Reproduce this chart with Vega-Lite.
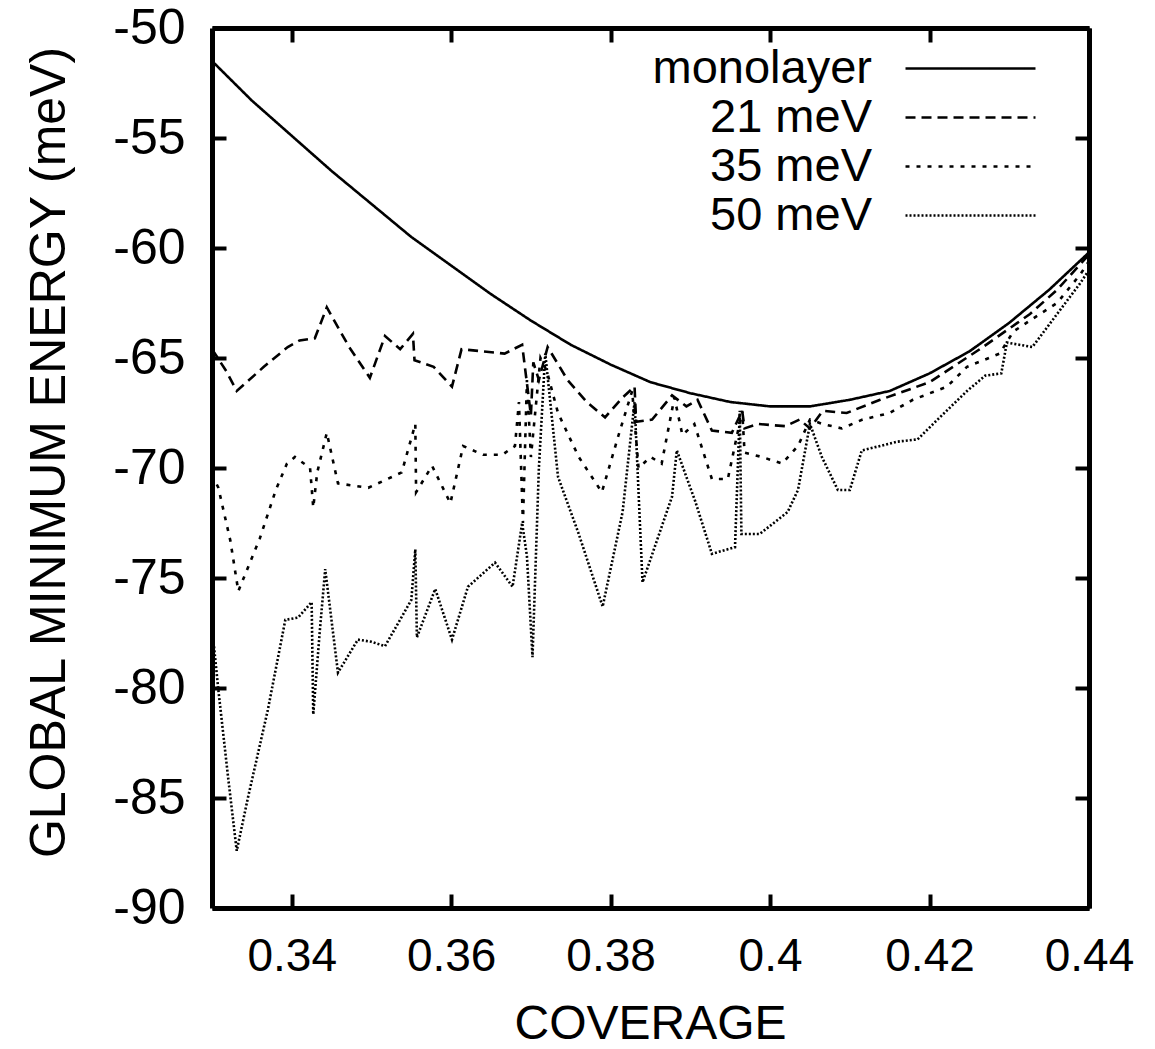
{
  "$schema": "https://vega.github.io/schema/vega-lite/v6.json",
  "width": 877,
  "height": 880,
  "autosize": {"type": "none"},
  "padding": {"left": 212, "top": 28, "right": 66, "bottom": 141},
  "background": "white",
  "config": {
    "view": {"stroke": null},
    "axis": {"grid": false}
  },
  "datasets": {
    "curves": [
      {"s": "monolayer", "x": 0.330, "y": -51.5},
      {"s": "monolayer", "x": 0.335, "y": -53.3},
      {"s": "monolayer", "x": 0.340, "y": -54.9},
      {"s": "monolayer", "x": 0.345, "y": -56.5},
      {"s": "monolayer", "x": 0.350, "y": -58.0},
      {"s": "monolayer", "x": 0.355, "y": -59.5},
      {"s": "monolayer", "x": 0.360, "y": -60.8},
      {"s": "monolayer", "x": 0.365, "y": -62.1},
      {"s": "monolayer", "x": 0.370, "y": -63.3},
      {"s": "monolayer", "x": 0.375, "y": -64.4},
      {"s": "monolayer", "x": 0.380, "y": -65.3},
      {"s": "monolayer", "x": 0.385, "y": -66.1},
      {"s": "monolayer", "x": 0.390, "y": -66.6},
      {"s": "monolayer", "x": 0.395, "y": -67.0},
      {"s": "monolayer", "x": 0.400, "y": -67.2},
      {"s": "monolayer", "x": 0.405, "y": -67.2},
      {"s": "monolayer", "x": 0.410, "y": -66.9},
      {"s": "monolayer", "x": 0.415, "y": -66.5},
      {"s": "monolayer", "x": 0.420, "y": -65.7},
      {"s": "monolayer", "x": 0.425, "y": -64.7},
      {"s": "monolayer", "x": 0.430, "y": -63.4},
      {"s": "monolayer", "x": 0.435, "y": -61.9},
      {"s": "monolayer", "x": 0.440, "y": -60.2},

      {"s": "21 meV", "x": 0.3300, "y": -64.6},
      {"s": "21 meV", "x": 0.3318, "y": -65.6},
      {"s": "21 meV", "x": 0.3331, "y": -66.5},
      {"s": "21 meV", "x": 0.3365, "y": -65.4},
      {"s": "21 meV", "x": 0.3395, "y": -64.5},
      {"s": "21 meV", "x": 0.3410, "y": -64.2},
      {"s": "21 meV", "x": 0.3429, "y": -64.1},
      {"s": "21 meV", "x": 0.3444, "y": -62.7},
      {"s": "21 meV", "x": 0.3472, "y": -64.5},
      {"s": "21 meV", "x": 0.3498, "y": -65.9},
      {"s": "21 meV", "x": 0.3517, "y": -64.0},
      {"s": "21 meV", "x": 0.3536, "y": -64.6},
      {"s": "21 meV", "x": 0.3552, "y": -63.9},
      {"s": "21 meV", "x": 0.3554, "y": -65.1},
      {"s": "21 meV", "x": 0.3578, "y": -65.4},
      {"s": "21 meV", "x": 0.3601, "y": -66.3},
      {"s": "21 meV", "x": 0.3613, "y": -64.6},
      {"s": "21 meV", "x": 0.3640, "y": -64.7},
      {"s": "21 meV", "x": 0.3667, "y": -64.8},
      {"s": "21 meV", "x": 0.3689, "y": -64.4},
      {"s": "21 meV", "x": 0.3700, "y": -67.6},
      {"s": "21 meV", "x": 0.3703, "y": -65.2},
      {"s": "21 meV", "x": 0.3710, "y": -66.0},
      {"s": "21 meV", "x": 0.3721, "y": -64.5},
      {"s": "21 meV", "x": 0.3746, "y": -66.0},
      {"s": "21 meV", "x": 0.3770, "y": -67.0},
      {"s": "21 meV", "x": 0.3793, "y": -67.7},
      {"s": "21 meV", "x": 0.3815, "y": -66.8},
      {"s": "21 meV", "x": 0.3830, "y": -66.3},
      {"s": "21 meV", "x": 0.3832, "y": -67.9},
      {"s": "21 meV", "x": 0.3852, "y": -67.8},
      {"s": "21 meV", "x": 0.3877, "y": -66.7},
      {"s": "21 meV", "x": 0.3895, "y": -67.2},
      {"s": "21 meV", "x": 0.3909, "y": -66.9},
      {"s": "21 meV", "x": 0.3927, "y": -68.3},
      {"s": "21 meV", "x": 0.3952, "y": -68.4},
      {"s": "21 meV", "x": 0.3965, "y": -67.4},
      {"s": "21 meV", "x": 0.3968, "y": -68.2},
      {"s": "21 meV", "x": 0.3985, "y": -68.0},
      {"s": "21 meV", "x": 0.4019, "y": -68.1},
      {"s": "21 meV", "x": 0.4037, "y": -67.8},
      {"s": "21 meV", "x": 0.4050, "y": -68.2},
      {"s": "21 meV", "x": 0.4066, "y": -67.4},
      {"s": "21 meV", "x": 0.4096, "y": -67.5},
      {"s": "21 meV", "x": 0.4138, "y": -66.9},
      {"s": "21 meV", "x": 0.4200, "y": -66.1},
      {"s": "21 meV", "x": 0.4263, "y": -64.6},
      {"s": "21 meV", "x": 0.4326, "y": -63.0},
      {"s": "21 meV", "x": 0.4360, "y": -61.9},
      {"s": "21 meV", "x": 0.4400, "y": -60.3},

      {"s": "35 meV", "x": 0.3300, "y": -70.3},
      {"s": "35 meV", "x": 0.3308, "y": -70.9},
      {"s": "35 meV", "x": 0.3323, "y": -73.3},
      {"s": "35 meV", "x": 0.3333, "y": -75.6},
      {"s": "35 meV", "x": 0.3360, "y": -73.2},
      {"s": "35 meV", "x": 0.3380, "y": -71.0},
      {"s": "35 meV", "x": 0.3394, "y": -69.8},
      {"s": "35 meV", "x": 0.3404, "y": -69.5},
      {"s": "35 meV", "x": 0.3423, "y": -70.0},
      {"s": "35 meV", "x": 0.3427, "y": -71.8},
      {"s": "35 meV", "x": 0.3432, "y": -70.2},
      {"s": "35 meV", "x": 0.3444, "y": -68.4},
      {"s": "35 meV", "x": 0.3458, "y": -70.7},
      {"s": "35 meV", "x": 0.3496, "y": -70.9},
      {"s": "35 meV", "x": 0.3538, "y": -70.2},
      {"s": "35 meV", "x": 0.3555, "y": -68.0},
      {"s": "35 meV", "x": 0.3556, "y": -71.1},
      {"s": "35 meV", "x": 0.3576, "y": -69.9},
      {"s": "35 meV", "x": 0.3599, "y": -71.6},
      {"s": "35 meV", "x": 0.3615, "y": -69.0},
      {"s": "35 meV", "x": 0.3640, "y": -69.4},
      {"s": "35 meV", "x": 0.3664, "y": -69.4},
      {"s": "35 meV", "x": 0.3680, "y": -69.0},
      {"s": "35 meV", "x": 0.3685, "y": -67.0},
      {"s": "35 meV", "x": 0.3690, "y": -72.5},
      {"s": "35 meV", "x": 0.3695, "y": -66.0},
      {"s": "35 meV", "x": 0.3700, "y": -69.5},
      {"s": "35 meV", "x": 0.3712, "y": -65.0},
      {"s": "35 meV", "x": 0.3720, "y": -65.6},
      {"s": "35 meV", "x": 0.3734, "y": -67.5},
      {"s": "35 meV", "x": 0.3760, "y": -69.5},
      {"s": "35 meV", "x": 0.3789, "y": -71.1},
      {"s": "35 meV", "x": 0.3810, "y": -68.5},
      {"s": "35 meV", "x": 0.3827, "y": -66.5},
      {"s": "35 meV", "x": 0.3835, "y": -70.0},
      {"s": "35 meV", "x": 0.3850, "y": -69.5},
      {"s": "35 meV", "x": 0.3864, "y": -69.8},
      {"s": "35 meV", "x": 0.3880, "y": -66.8},
      {"s": "35 meV", "x": 0.3890, "y": -68.5},
      {"s": "35 meV", "x": 0.3905, "y": -68.0},
      {"s": "35 meV", "x": 0.3927, "y": -70.5},
      {"s": "35 meV", "x": 0.3947, "y": -70.5},
      {"s": "35 meV", "x": 0.3965, "y": -67.4},
      {"s": "35 meV", "x": 0.3968, "y": -69.3},
      {"s": "35 meV", "x": 0.3990, "y": -69.5},
      {"s": "35 meV", "x": 0.4015, "y": -69.8},
      {"s": "35 meV", "x": 0.4035, "y": -69.0},
      {"s": "35 meV", "x": 0.4050, "y": -67.8},
      {"s": "35 meV", "x": 0.4066, "y": -68.0},
      {"s": "35 meV", "x": 0.4090, "y": -68.2},
      {"s": "35 meV", "x": 0.4116, "y": -67.8},
      {"s": "35 meV", "x": 0.4150, "y": -67.5},
      {"s": "35 meV", "x": 0.4179, "y": -66.9},
      {"s": "35 meV", "x": 0.4222, "y": -66.3},
      {"s": "35 meV", "x": 0.4247, "y": -65.4},
      {"s": "35 meV", "x": 0.4288, "y": -64.8},
      {"s": "35 meV", "x": 0.4305, "y": -63.8},
      {"s": "35 meV", "x": 0.4330, "y": -63.2},
      {"s": "35 meV", "x": 0.4360, "y": -62.5},
      {"s": "35 meV", "x": 0.4389, "y": -61.2},
      {"s": "35 meV", "x": 0.4400, "y": -60.6},

      {"s": "50 meV", "x": 0.3300, "y": -77.2},
      {"s": "50 meV", "x": 0.3308, "y": -80.1},
      {"s": "50 meV", "x": 0.3320, "y": -84.0},
      {"s": "50 meV", "x": 0.3331, "y": -87.4},
      {"s": "50 meV", "x": 0.3345, "y": -85.0},
      {"s": "50 meV", "x": 0.3370, "y": -81.0},
      {"s": "50 meV", "x": 0.3392, "y": -76.9},
      {"s": "50 meV", "x": 0.3408, "y": -76.8},
      {"s": "50 meV", "x": 0.3425, "y": -76.1},
      {"s": "50 meV", "x": 0.3427, "y": -81.2},
      {"s": "50 meV", "x": 0.3435, "y": -77.5},
      {"s": "50 meV", "x": 0.3442, "y": -74.6},
      {"s": "50 meV", "x": 0.3458, "y": -79.3},
      {"s": "50 meV", "x": 0.3483, "y": -77.8},
      {"s": "50 meV", "x": 0.3500, "y": -77.9},
      {"s": "50 meV", "x": 0.3517, "y": -78.1},
      {"s": "50 meV", "x": 0.3550, "y": -76.0},
      {"s": "50 meV", "x": 0.3555, "y": -73.7},
      {"s": "50 meV", "x": 0.3557, "y": -77.7},
      {"s": "50 meV", "x": 0.3580, "y": -75.5},
      {"s": "50 meV", "x": 0.3601, "y": -77.8},
      {"s": "50 meV", "x": 0.3621, "y": -75.4},
      {"s": "50 meV", "x": 0.3655, "y": -74.3},
      {"s": "50 meV", "x": 0.3677, "y": -75.4},
      {"s": "50 meV", "x": 0.3689, "y": -72.5},
      {"s": "50 meV", "x": 0.3695, "y": -74.0},
      {"s": "50 meV", "x": 0.3702, "y": -78.6},
      {"s": "50 meV", "x": 0.3710, "y": -70.0},
      {"s": "50 meV", "x": 0.3718, "y": -64.8},
      {"s": "50 meV", "x": 0.3734, "y": -70.4},
      {"s": "50 meV", "x": 0.3760, "y": -73.0},
      {"s": "50 meV", "x": 0.3790, "y": -76.3},
      {"s": "50 meV", "x": 0.3815, "y": -72.0},
      {"s": "50 meV", "x": 0.3830, "y": -67.0},
      {"s": "50 meV", "x": 0.3840, "y": -75.2},
      {"s": "50 meV", "x": 0.3877, "y": -71.3},
      {"s": "50 meV", "x": 0.3883, "y": -69.2},
      {"s": "50 meV", "x": 0.3906, "y": -71.5},
      {"s": "50 meV", "x": 0.3927, "y": -73.9},
      {"s": "50 meV", "x": 0.3956, "y": -73.6},
      {"s": "50 meV", "x": 0.3962, "y": -67.4},
      {"s": "50 meV", "x": 0.3964, "y": -73.0},
      {"s": "50 meV", "x": 0.3987, "y": -73.0},
      {"s": "50 meV", "x": 0.4022, "y": -72.0},
      {"s": "50 meV", "x": 0.4035, "y": -71.0},
      {"s": "50 meV", "x": 0.4050, "y": -68.0},
      {"s": "50 meV", "x": 0.4065, "y": -69.5},
      {"s": "50 meV", "x": 0.4085, "y": -71.0},
      {"s": "50 meV", "x": 0.4100, "y": -71.0},
      {"s": "50 meV", "x": 0.4115, "y": -69.2},
      {"s": "50 meV", "x": 0.4138, "y": -69.0},
      {"s": "50 meV", "x": 0.4160, "y": -68.8},
      {"s": "50 meV", "x": 0.4185, "y": -68.7},
      {"s": "50 meV", "x": 0.4210, "y": -67.8},
      {"s": "50 meV", "x": 0.4247, "y": -66.5},
      {"s": "50 meV", "x": 0.4270, "y": -65.8},
      {"s": "50 meV", "x": 0.4290, "y": -65.7},
      {"s": "50 meV", "x": 0.4297, "y": -64.3},
      {"s": "50 meV", "x": 0.4329, "y": -64.5},
      {"s": "50 meV", "x": 0.4360, "y": -63.0},
      {"s": "50 meV", "x": 0.4389, "y": -61.6},
      {"s": "50 meV", "x": 0.4400, "y": -61.0}
    ]
  },
  "data": {"name": "curves"},
  "layer": [
    {
      "mark": {"type": "line", "strokeWidth": 2.6, "color": "black", "clip": true},
      "encoding": {
        "x": {
          "field": "x", "type": "quantitative",
          "scale": {"domain": [0.33, 0.44], "nice": false, "zero": false},
          "axis": {
            "orient": "bottom",
            "values": [0.34, 0.36, 0.38, 0.4, 0.42, 0.44],
            "format": "~g",
            "title": "COVERAGE",
            "titleFont": "Liberation Sans, sans-serif",
            "titleFontSize": 48,
            "titleFontWeight": "normal",
            "titleColor": "black",
            "titleX": 438,
            "titleY": 130,
            "titleBaseline": "alphabetic",
            "titleAlign": "center",
            "labelFont": "Liberation Sans, sans-serif",
            "labelFontSize": 46,
            "labelColor": "black",
            "labelPadding": 40,
            "labelFlush": false,
            "labelOverlap": false,
            "tickSize": -14,
            "tickWidth": 4,
            "tickColor": "black",
            "domainWidth": 5,
            "domainColor": "black"
          }
        },
        "y": {
          "field": "y", "type": "quantitative",
          "scale": {"domain": [-90, -50], "nice": false, "zero": false},
          "axis": {
            "orient": "left",
            "values": [-90, -85, -80, -75, -70, -65, -60, -55, -50],
            "labelExpr": "toString(datum.value)",
            "title": "GLOBAL MINIMUM ENERGY (meV)",
            "titleFont": "Liberation Sans, sans-serif",
            "titleFontSize": 50,
            "titleFontWeight": "normal",
            "titleColor": "black",
            "titleAngle": -90,
            "titleX": -148,
            "titleY": 424,
            "titleBaseline": "alphabetic",
            "titleAlign": "center",
            "labelFont": "Liberation Sans, sans-serif",
            "labelFontSize": 50,
            "labelColor": "black",
            "labelPadding": 41,
            "labelFlush": false,
            "labelOverlap": false,
            "tickSize": -14,
            "tickWidth": 4,
            "tickColor": "black",
            "domainWidth": 5,
            "domainColor": "black"
          }
        },
        "strokeDash": {
          "field": "s", "type": "nominal",
          "scale": {
            "domain": ["monolayer", "21 meV", "35 meV", "50 meV"],
            "range": [[1, 0], [10, 6], [4, 7], [2, 2]]
          },
          "legend": {
            "title": null,
            "orient": "none",
            "legendX": 735,
            "legendY": 17,
            "padding": 0,
            "symbolType": "M-4.333,0H4.333",
            "symbolSize": 900,
            "symbolStrokeWidth": 2.6,
            "symbolStrokeColor": "black",
            "symbolFillColor": "transparent",
            "rowPadding": 1,
            "labelFont": "Liberation Sans, sans-serif",
            "labelFontSize": 47,
            "labelColor": "black",
            "labelAlign": "right",
            "labelOffset": -122,
            "labelLimit": 400
          }
        }
      }
    },
    {
      "mark": {"type": "line", "opacity": 0},
      "encoding": {
        "x": {
          "field": "x", "type": "quantitative",
          "scale": {"domain": [0.33, 0.44], "nice": false, "zero": false},
          "axis": {
            "orient": "top",
            "values": [0.34, 0.36, 0.38, 0.4, 0.42, 0.44],
            "labels": false,
            "title": null,
            "tickSize": -14,
            "tickWidth": 4,
            "tickColor": "black",
            "domainWidth": 5,
            "domainColor": "black"
          }
        },
        "y": {
          "field": "y", "type": "quantitative",
          "scale": {"domain": [-90, -50], "nice": false, "zero": false},
          "axis": {
            "orient": "right",
            "values": [-90, -85, -80, -75, -70, -65, -60, -55, -50],
            "labels": false,
            "title": null,
            "tickSize": -14,
            "tickWidth": 4,
            "tickColor": "black",
            "domainWidth": 5,
            "domainColor": "black"
          }
        },
        "detail": {"field": "s", "type": "nominal"}
      }
    }
  ],
  "resolve": {"axis": {"x": "independent", "y": "independent"}}
}
